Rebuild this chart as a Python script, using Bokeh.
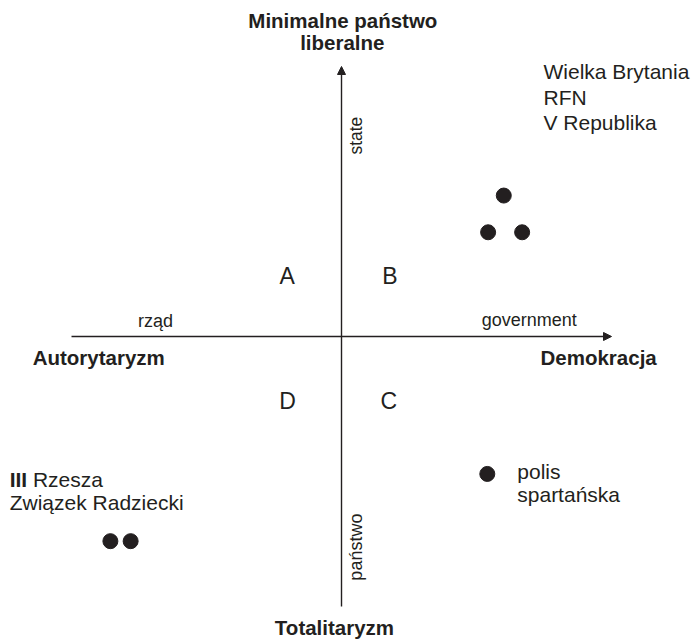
from bokeh.plotting import figure
from bokeh.models import Range1d, Arrow, NormalHead, ColumnDataSource
from bokeh.core.properties import value
from bokeh.embed import file_html
from bokeh.resources import INLINE
import math

# ---- data ----
AXIS_MIN, AXIS_MAX = -10, 10
axis_labels = ["Autorytaryzm", "Demokracja", "Minimalne państwo\nliberalne", "Totalitaryzm"]
quadrants = ["A", "B", "C", "D"]
# states: government (x) vs state (y)
west_x = [6.01, 5.43, 6.69]
west_y = [5.22, 3.86, 3.86]
west_names = ["Wielka Brytania", "RFN", "V Republika"]
total_x = [-8.56, -7.81]
total_y = [-7.58, -7.58]
total_names = ["III Rzesza", "Związek Radziecki"]
sparta_x = [5.40]
sparta_y = [-5.09]
sparta_names = ["polis spartańska"]

INK = "#231f20"
FONT = value("Liberation Sans")

p = figure(width=693, height=641, output_backend="svg", toolbar_location=None,
           x_range=Range1d(-12.63, 13.037), y_range=Range1d(-11.296, 12.444),
           x_axis_type=None, y_axis_type=None, min_border=0,
           min_border_left=0, min_border_right=0, min_border_top=0, min_border_bottom=0)
p.grid.visible = False
p.outline_line_color = None
p.background_fill_color = "white"

# axes with arrows
p.add_layout(Arrow(x_start=AXIS_MIN, y_start=0, x_end=AXIS_MAX, y_end=0,
                   line_color=INK, line_width=1.4,
                   end=NormalHead(size=8, fill_color=INK, line_color=INK, line_width=1)))
p.add_layout(Arrow(x_start=0, y_start=AXIS_MIN, x_end=0, y_end=AXIS_MAX,
                   line_color=INK, line_width=1.4,
                   end=NormalHead(size=8, fill_color=INK, line_color=INK, line_width=1)))

# points
p.scatter(west_x + total_x + sparta_x, west_y + total_y + sparta_y,
          size=15, color=INK, line_color=INK)

def txt(xs, ys, texts, size, style="normal", align="left", angle=0.0):
    src = ColumnDataSource(dict(x=xs, y=ys, t=texts))
    rotated = angle != 0.0
    p.text(x="x", y="y", text="t", source=src, text_font=FONT,
           text_font_size=size, text_font_style=style, text_color=INK,
           text_align=align, text_baseline="alphabetic", angle=angle,
           x_offset=-7 if rotated else 0, y_offset=0 if rotated else -7.5)

title_lines = axis_labels[2].split("\n")
# bold pole labels
txt([-11.44], [-1.04], [axis_labels[0]], "20.5px", "bold", "left")
txt([7.37], [-1.04], [axis_labels[1]], "20.5px", "bold", "left")
txt([0.05, 0.03], [11.43, 10.62], title_lines, "20.5px", "bold", "center")
txt([-0.26], [-11.07], [axis_labels[3]], "20.5px", "bold", "center")

# axis captions
txt([-6.89], [0.31], ["rząd"], "18px", "normal", "center")
txt([5.19], [0.32], ["government"], "18px", "normal", "left")
txt([0.79], [7.44], ["state"], "17.5px", "normal", "center", math.pi / 2)
txt([0.78], [-7.80], ["państwo"], "18px", "normal", "center", math.pi / 2)

# quadrant letters
txt([-2.01, 1.79, 1.75, -2.0], [1.95, 1.95, -2.68, -2.68], quadrants, "23px", "normal", "center")

# group labels
txt([7.48, 7.48, 7.48], [9.52, 8.59, 7.66], west_names, "21px", "normal", "left")
roman, rest = total_names[0].split(" ", 1)
txt([-12.29], [-5.56], [roman], "21px", "bold", "left")
txt([-11.43], [-5.56], [rest], "21px", "normal", "left")
txt([-12.29], [-6.42], [total_names[1]], "21px", "normal", "left")
txt([6.51, 6.51], [-5.26, -6.14], sparta_names[0].split(" "), "21px", "normal", "left")

open("out.html", "w").write(file_html(p, INLINE))
